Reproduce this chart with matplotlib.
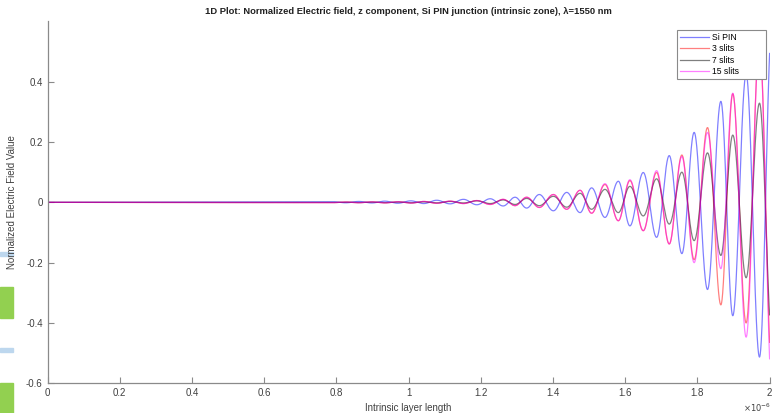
import numpy as np
import matplotlib
matplotlib.use("Agg")
import matplotlib.pyplot as plt
from matplotlib.patches import Rectangle

plt.rcParams['font.family'] = ['Liberation Sans', 'DejaVu Sans']
plt.rcParams['axes.unicode_minus'] = False

# ---- data (x in units of 1e-6 m) ----
# positions of successive extrema (shared by all series)
ext_x = [0.790, 0.826, 0.862, 0.898, 0.934, 0.970, 1.006, 1.042, 1.078, 1.115,
         1.152, 1.189, 1.226, 1.262, 1.295, 1.327, 1.362, 1.401, 1.438, 1.475,
         1.507, 1.544, 1.581, 1.613, 1.650, 1.687, 1.722, 1.757, 1.791, 1.828,
         1.865, 1.898, 1.935, 1.972, 2.007]

si_pin = [0.002, -0.0015, 0.003, -0.002, 0.004, -0.003, 0.005, -0.004, 0.007, -0.005,
          0.010, -0.008, 0.012, -0.012, 0.017, -0.019, 0.026, -0.028, 0.033, -0.034,
          0.048, -0.050, 0.070, -0.078, 0.099, -0.116, 0.155, -0.170, 0.232, -0.289,
          0.335, -0.376, 0.425, -0.513, 0.600]

slits3 = [-0.001, 0.001, -0.0012, 0.0015, -0.0018, 0.002, -0.0025, 0.003, -0.003, 0.004,
          -0.004, 0.006, -0.007, 0.010, -0.011, 0.017, -0.017, 0.026, -0.023, 0.040,
          -0.036, 0.059, -0.061, 0.072, -0.094, 0.099, -0.138, 0.157, -0.190, 0.248,
          -0.340, 0.360, -0.400, 0.529, -0.569]

slits7 = [-0.0005, 0.0006, -0.0007, 0.0009, -0.001, 0.0012, -0.0014, 0.0017, -0.0018, 0.003,
          -0.002, 0.005, -0.004, 0.008, -0.007, 0.013, -0.011, 0.020, -0.016, 0.030,
          -0.023, 0.043, -0.034, 0.053, -0.045, 0.078, -0.072, 0.100, -0.127, 0.164,
          -0.176, 0.223, -0.250, 0.329, -0.447]

slits15 = [-0.001, 0.001, -0.0012, 0.0015, -0.0018, 0.002, -0.0025, 0.003, -0.003, 0.004,
           -0.004, 0.006, -0.007, 0.010, -0.011, 0.017, -0.017, 0.026, -0.023, 0.040,
           -0.036, 0.062, -0.061, 0.075, -0.094, 0.105, -0.138, 0.152, -0.200, 0.232,
           -0.220, 0.362, -0.447, 0.535, -0.630]

series_names = ["Si PIN", "3 slits", "7 slits", "15 slits"]
x_ticks = [0, 0.2, 0.4, 0.6, 0.8, 1, 1.2, 1.4, 1.6, 1.8, 2]
x_tick_labels = ["0", "0.2", "0.4", "0.6", "0.8", "1", "1.2", "1.4", "1.6", "1.8", "2"]
y_ticks = [-0.6, -0.4, -0.2, 0, 0.2, 0.4]
y_tick_labels = ["-0.6", "-0.4", "-0.2", "0", "0.2", "0.4"]
x_start, x_end = 0.0, 2.0


def wave(xs, ex, ey):
    """smooth half-cosine path through successive extrema"""
    px = np.concatenate([[x_start], ex])
    py = np.concatenate([[0.0], ey])
    idx = np.clip(np.searchsorted(px, xs) - 1, 0, len(px) - 2)
    x0, x1 = px[idx], px[idx + 1]
    y0, y1 = py[idx], py[idx + 1]
    t = np.clip((xs - x0) / (x1 - x0), 0, 1)
    return y0 + (y1 - y0) * (1 - np.cos(np.pi * t)) / 2


W, H = 772, 413
fig = plt.figure(figsize=(W / 100, H / 100), dpi=100)
ax = fig.add_axes([47.6 / W, 1 - 383.3 / H, (769.6 - 47.6) / W, (383.3 - 21.4) / H])

xs = np.linspace(x_start, x_end, 6000)
colors = [(0, 0, 1), (1, 0, 0), (0, 0, 0), (1, 0, 1)]
for name, vals, c in zip(series_names, [si_pin, slits3, slits7, slits15], colors):
    ax.plot(xs, wave(xs, np.array(ext_x), np.array(vals)), color=c, alpha=0.5,
            lw=0.9, label=name)

ax.set_xlim(0, 2)
ax.set_ylim(-0.6, 0.6)
ax.set_xticks(x_ticks)
ax.set_xticklabels(x_tick_labels)
ax.set_yticks(y_ticks)
ax.set_yticklabels(y_tick_labels)
for s in ['top', 'right']:
    ax.spines[s].set_visible(False)
for s in ['left', 'bottom']:
    ax.spines[s].set_color('#8a8a8a')
    ax.spines[s].set_linewidth(0.9)
ax.tick_params(direction='in', length=4, width=0.8, color='#8a8a8a',
               labelsize=7, labelcolor='#404040', pad=3.5)

ax.set_title("1D Plot: Normalized Electric field, z component, Si PIN junction "
             "(intrinsic zone), \u03bb=1550 nm", fontsize=6.77, fontweight='bold',
             color='#202020', pad=5)

fig.text(12 / W, 1 - 202 / H, "Normalized Electric Field Value", rotation=90,
         ha='center', va='center', fontsize=7, color='#404040')
fig.text(408 / W, 1 - 408 / H, "Intrinsic layer length", ha='center', va='center',
         fontsize=7, color='#404040')
fig.text(757 / W, 1 - 408 / H, r"$\times10^{-6}$", ha='center', va='center',
         fontsize=6, color='#404040')

leg = ax.legend(loc='upper left',
                bbox_to_anchor=(677 / W, 1 - 77 / H, 89 / W, 47 / H),
                bbox_transform=fig.transFigure, mode='expand', fontsize=6.2,
                frameon=True, fancybox=False, framealpha=1, edgecolor='#8a8a8a',
                handlelength=3.4, handletextpad=0.4, borderpad=0.3,
                labelspacing=0.3, borderaxespad=0)
leg.get_frame().set_linewidth(0.8)

# screenshot side-bar fragments at the left edge
for (y0, y1, col) in [(252, 256, '#bdd7ee'), (287, 318, '#92d050'),
                      (348, 352, '#bdd7ee'), (383, 413, '#92d050')]:
    fig.patches.append(Rectangle((0, 1 - y1 / H), 13 / W, (y1 - y0) / H,
                                 transform=fig.transFigure, color=col, zorder=0))

fig.savefig("out.png", dpi=100)
